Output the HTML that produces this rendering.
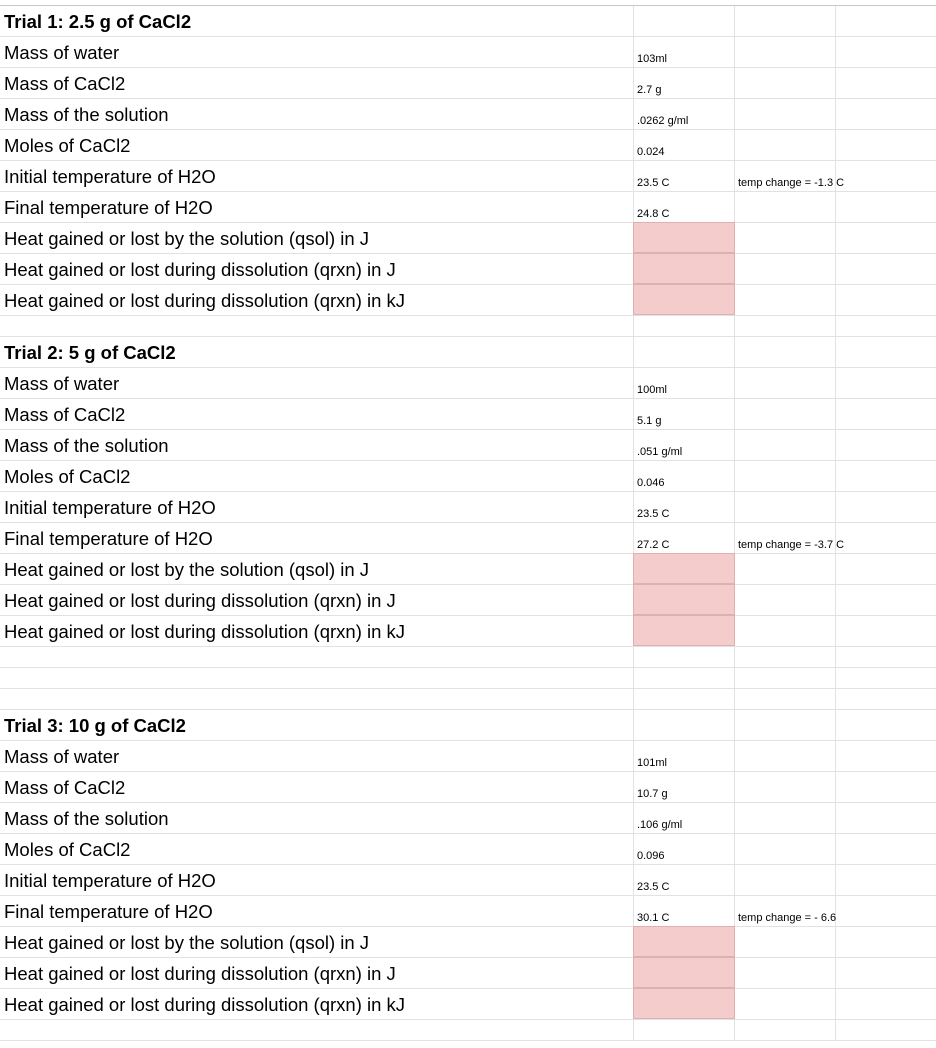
<!DOCTYPE html>
<html><head><meta charset="utf-8"><style>
body{margin:0;width:936px;height:1048px;overflow:hidden;background:#fff;font-family:"Liberation Sans",Arial,sans-serif;position:relative}
.row{position:absolute;left:0;width:936px;border-bottom:1px solid #e2e2e2;box-sizing:border-box}
.c{position:absolute;top:0;bottom:0;border-right:1px solid #e2e2e2;box-sizing:border-box}
.a{left:0;width:634px;font-size:18.5px;color:#000;padding-left:4px;line-height:32px}
.b{left:633px;width:102px}
.cc{left:734px;width:102px}
.d{left:835px;width:101px;border-right:none}
.v{font-size:11px;position:absolute;left:4px;bottom:2px;white-space:nowrap}
.pink{background:#f4cccc;border:1px solid #dfb0b0;top:-1px}
.t{font-weight:bold}
#top{position:absolute;left:0;top:0;width:936px;height:6px;border-bottom:1px solid #c8c8c8;box-sizing:border-box}
</style></head><body>
<div id="top"></div>
<div id="sheet"></div>
<script>
const trials=[
 {title:"Trial 1: 2.5 g of CaCl2",vals:["103ml","2.7 g",".0262 g/ml","0.024","23.5 C","24.8 C"],note:"temp change = -1.3 C",noteRow:4},
 {title:"Trial 2: 5 g of CaCl2",vals:["100ml","5.1 g",".051 g/ml","0.046","23.5 C","27.2 C"],note:"temp change = -3.7 C",noteRow:5},
 {title:"Trial 3: 10 g of CaCl2",vals:["101ml","10.7 g",".106 g/ml","0.096","23.5 C","30.1 C"],note:"temp change = - 6.6",noteRow:5}
];
const labels=["Mass of water","Mass of CaCl2","Mass of the solution","Moles of CaCl2","Initial temperature of H2O","Final temperature of H2O","Heat gained or lost by the solution (qsol) in J","Heat gained or lost during dissolution (qrxn) in J","Heat gained or lost during dissolution (qrxn) in kJ"];
const blanks=[1,3,1];
const sheet=document.getElementById('sheet');
let y=6;
function addRow(h,label,bold,val,pink,note){
 const r=document.createElement('div');r.className='row';r.style.top=y+'px';r.style.height=h+'px';
 
 
 const a=document.createElement('div');a.className='c a'+(bold?' t':'');a.textContent=label||'';
 
 
 const b=document.createElement('div');b.className='c b'+(pink?' pink':'');
 
 
 if(val){const s=document.createElement('span');s.className='v';s.textContent=val;b.appendChild(s);}
 const c=document.createElement('div');c.className='c cc';
 
 
 if(note){const s=document.createElement('span');s.className='v';s.textContent=note;c.appendChild(s);}
 const d=document.createElement('div');d.className='c d';
 
 
 r.append(a,b,c,d);sheet.appendChild(r);y+=h;
}
trials.forEach((t,i)=>{
 addRow(31,t.title,true,'',false,'');
 labels.forEach((l,j)=>addRow(31,l,false,t.vals[j]||'',j>=6,j===t.noteRow?t.note:''));
 for(let k=0;k<blanks[i];k++)addRow(21,'',false,'',false,'');
});
</script>
</body></html>
